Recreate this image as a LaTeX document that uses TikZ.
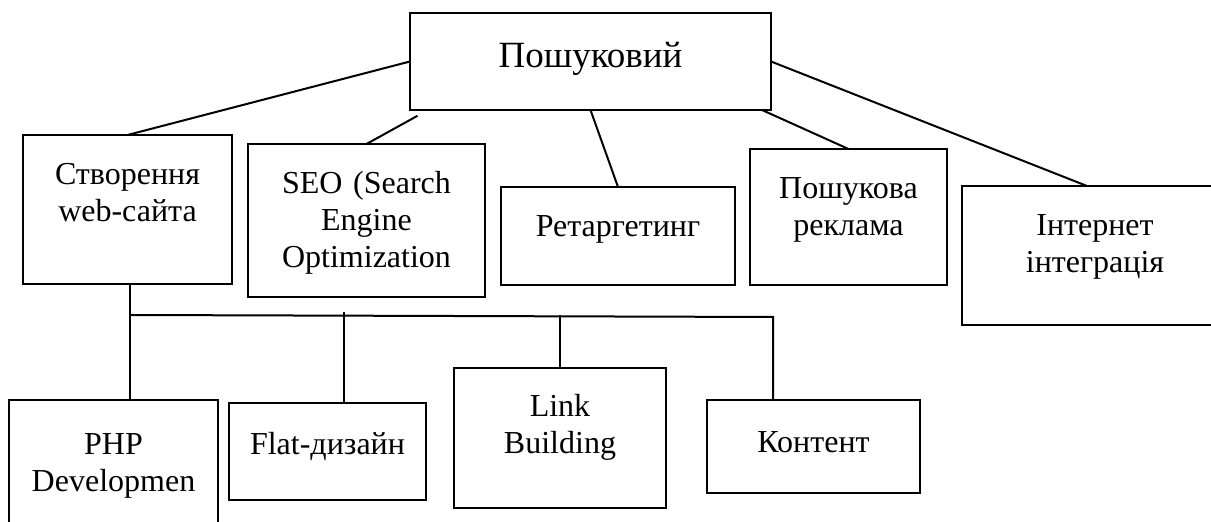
\documentclass[tikz,border=0pt]{standalone}
\usepackage{fontspec}
\setmainfont{Liberation Serif}

\begin{document}
\begin{tikzpicture}[
  x=0.5pt, y=-0.5pt,
  font=\fontsize{16}{18.5}\selectfont,
  line width=1pt,
  box/.style={draw, anchor=north west, align=center, inner sep=0pt, outer sep=0pt},
  head/.style={box, font=\fontsize{18.5}{22}\selectfont}
]
\useasboundingbox (0,0) rectangle (1211,522);
\clip (0,0) rectangle (1211,522);
\fill[white] (0,0) rectangle (1211,522);

% upper row
\node[head, text width=180.5pt, text height=27.5pt, text depth=21pt] (search) at (410,13) {Пошуковий};
\node[box, text width=104.5pt, text height=25pt, text depth=49.5pt] (web) at (23,135) {Створення\\web-сайта};
\node[box, text width=118.5pt, text height=25pt, text depth=51.5pt] (seo) at (248,144) {SEO (Search\\Engine\\Optimization};
\node[box, text width=117pt, text height=25pt, text depth=24pt] (retarget) at (501,187) {Ретаргетинг};
\node[box, text width=98.5pt, text height=25pt, text depth=43pt] (ads) at (750,149) {Пошукова\\реклама};
\node[box, text width=133pt, text height=25pt, text depth=44.5pt] (integ) at (962,186) {Інтернет\\інтеграція};

% lower row
\node[box, text width=104.5pt, text height=27.5pt, text depth=42.5pt] (php) at (9,400) {PHP\\Developmen};
\node[box, text width=98.5pt, text height=26pt, text depth=22.5pt] (flat) at (229,403) {Flat-дизайн};
\node[box, text width=106pt, text height=24.5pt, text depth=45.5pt] (link) at (454,368) {Link\\Building};
\node[box, text width=106.5pt, text height=26.5pt, text depth=20pt] (content) at (707,400) {Контент};

\draw (search.west) -- (web.north);
\draw[shorten <=6pt] ([xshift=9pt]search.south west) -- (seo.north);
\draw (search.south) -- (retarget.north);
\draw ([xshift=-4.5pt]search.south east) -- (ads.north);
\draw (search.east) -- ([xshift=-4pt]integ.north);

% bus
\coordinate (busl) at (130,315);
\coordinate (busr) at (773,317);
\coordinate (flatj) at (344,312);
\draw (busl |- web.south) -- (busl |- php.north);
\draw (busl) -- (busr) -- (busr |- content.north);
\draw (flatj) -- (flatj |- flat.north);
\draw (link.north |- busl) -- (link.north);

\end{tikzpicture}
\end{document}
